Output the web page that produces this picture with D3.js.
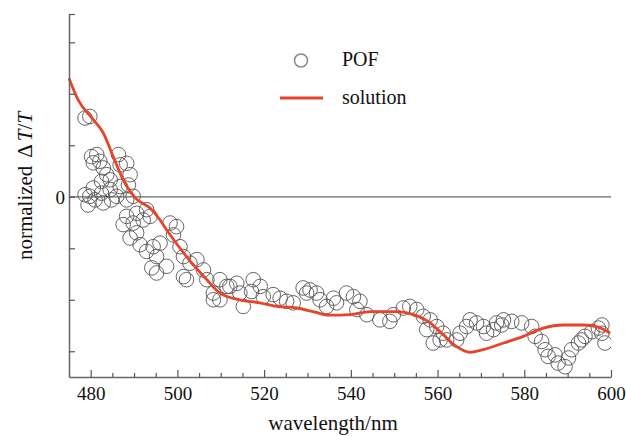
<!DOCTYPE html>
<html>
<head>
<meta charset="utf-8">
<script src="https://d3js.org/d3.v7.min.js"></script>
<style>
  body { margin: 0; background: #fff; }
  text { font-family: "Liberation Serif", "Times New Roman", serif; fill: #111; }
</style>
</head>
<body>
<div id="chart"></div>
<script>
// solution (red line)
var solNm  = [475.0, 477.1, 480.6, 482.9, 485.2, 487.5, 490.4, 493.7, 496.0, 497.5, 502.1, 506.8, 509.8, 514.4,
              519.0, 522.9, 527.5, 531.3, 535.2, 539.8, 544.4, 550.6, 554.4, 558.3, 561.3, 564.4, 567.5, 570.5,
              575.2, 579.8, 584.4, 589.0, 593.6, 596.7, 599.8];
var solVal = [2.30, 1.88, 1.50, 1.24, 0.78, 0.33, -0.03, -0.22, -0.45, -0.64, -1.16, -1.61, -1.87, -2.00,
              -2.06, -2.13, -2.16, -2.23, -2.30, -2.29, -2.23, -2.23, -2.29, -2.45, -2.68, -2.91, -3.02, -2.97,
              -2.84, -2.71, -2.55, -2.49, -2.49, -2.52, -2.65];

// POF (open circles)
var pofNm = [478.7, 479.8, 480.2, 481.4, 486.4, 480.6, 482.1, 482.9, 486.8, 488.3, 489.1, 483.7, 484.5, 482.5,
             480.6, 479.8, 481.0, 482.5, 484.5, 486.8, 486.0, 484.8, 482.9, 488.7, 488.3, 489.8, 488.3, 490.6,
             492.1, 493.7, 487.5, 478.7, 479.4,
             489.8, 492.9, 490.6, 489.1, 491.4, 492.9, 494.4, 495.2, 494.1, 495.2, 497.5, 496.0, 498.3, 499.8,
             499.1, 500.6, 501.4, 502.9, 501.4, 502.1, 504.5, 506.0, 506.8, 508.3, 509.8, 509.8, 511.4, 508.3,
             512.1, 513.7, 515.2, 514.4, 517.5, 519.1, 517.1, 519.8, 522.1, 523.7, 525.2, 526.7, 529.0, 530.6,
             532.1, 532.9, 534.4, 536.7, 536.0, 539.0, 540.6, 542.1, 541.4, 543.7, 546.7, 549.0, 549.8, 529.8,
             552.1, 553.6, 555.2, 556.7, 558.3, 557.5, 559.8, 559.0, 560.6, 562.1, 561.3, 564.4, 565.2, 566.7,
             567.5, 569.0, 570.6, 571.3, 572.9, 573.6, 575.2,
             574.8, 577.1, 579.4, 581.7, 582.5, 584.0, 584.8, 585.5, 587.1, 587.8, 589.4, 590.2, 590.9, 592.5,
             593.2, 594.0, 595.6, 597.1, 597.9, 598.6, 597.9];
var pofVal = [1.53, 1.56, 0.78, 0.82, 0.82, 0.66, 0.69, 0.56, 0.62, 0.65, 0.43, 0.43, 0.33, 0.30,
              0.17, 0.01, -0.06, 0.07, 0.14, 0.20, 0.01, -0.06, -0.12, 0.23, -0.06, 0.01, -0.38, -0.32,
              -0.45, -0.38, -0.54, 0.04, -0.16,
              -0.51, -0.25, -0.70, -0.80, -0.93, -1.06, -0.97, -1.16, -1.38, -1.48, -1.35, -0.90, -0.51, -0.58,
              -0.74, -0.97, -1.16, -1.29, -1.55, -1.61, -1.22, -1.42, -1.61, -1.87, -2.00, -1.61, -1.74, -2.00,
              -1.74, -1.68, -2.13, -1.87, -1.61, -1.74, -1.84, -1.94, -1.90, -1.97, -2.03, -2.06, -1.77, -1.81,
              -1.87, -2.00, -2.13, -2.06, -1.97, -1.87, -1.94, -2.03, -2.19, -2.29, -2.39, -2.42, -2.29, -1.87,
              -2.16, -2.13, -2.19, -2.32, -2.39, -2.58, -2.52, -2.84, -2.78, -2.78, -2.65, -2.78, -2.65, -2.52,
              -2.39, -2.45, -2.52, -2.65, -2.58, -2.45, -2.39,
              -2.49, -2.42, -2.45, -2.52, -2.71, -2.81, -2.97, -3.10, -3.07, -3.23, -3.30, -3.13, -2.97, -2.84,
              -2.78, -2.71, -2.62, -2.55, -2.65, -2.84, -2.49];

var xMajor = [480, 500, 520, 540, 560, 580, 600];
var yTicks = [-3, -2, -1, 0, 1, 2, 3, 3.55];

var svg = d3.select("#chart").append("svg")
            .attr("width", 626)
            .attr("height", 437);

var x = d3.scaleLinear().domain([475, 600]).range([69, 611]);
var y = d3.scaleLinear().domain([-3.5, 3.55]).range([377, 14]);

svg.append("clipPath").attr("id", "plot")
   .append("rect").attr("x", 69).attr("y", 0).attr("width", 542).attr("height", 377);

// zero line
svg.append("line")
   .attr("x1", x(475)).attr("x2", x(600))
   .attr("y1", y(0)).attr("y2", y(0))
   .attr("stroke", "#666").attr("stroke-width", 1.3);

// circles
var pts = pofNm.map(function(d, i){ return {nm: d, v: pofVal[i]}; });
svg.append("g")
   .attr("clip-path", "url(#plot)")
   .selectAll("circle")
   .data(pts)
   .enter()
   .append("circle")
   .attr("cx", function(d){ return x(d.nm); })
   .attr("cy", function(d){ return y(d.v); })
   .attr("r", 7.3)
   .attr("fill", "none")
   .attr("stroke", "#555")
   .attr("stroke-width", 0.9);

// solution line
var line = d3.line()
  .x(function(d, i){ return x(solNm[i]); })
  .y(function(d){ return y(d); })
  .curve(d3.curveMonotoneX);

svg.append("path")
   .attr("d", line(solVal))
   .attr("fill", "none")
   .attr("stroke", "#e6452b")
   .attr("stroke-width", 2.8);

// axes
var xAxis = d3.axisBottom(x)
  .tickValues(d3.range(475, 601, 5))
  .tickSize(0)
  .tickFormat("");
var gx = svg.append("g").attr("transform", "translate(0,377)").call(xAxis);
gx.select(".domain").attr("stroke", "#666").attr("stroke-width", 1.5);
gx.selectAll(".tick line")
  .attr("y2", function(d){ return d % 20 == 0 ? -7 : -4; })
  .attr("stroke", "#555").attr("stroke-width", 1.2);
gx.selectAll(".tick")
  .filter(function(d){ return xMajor.indexOf(d) >= 0; })
  .append("text")
  .attr("y", 23)
  .attr("text-anchor", "middle")
  .style("font-size", "19px")
  .text(function(d){ return d; });

var yAxis = d3.axisLeft(y)
  .tickValues(yTicks)
  .tickSize(0)
  .tickFormat("");
var gy = svg.append("g").attr("transform", "translate(69,0)").call(yAxis);
gy.select(".domain").attr("stroke", "#666").attr("stroke-width", 1.5);
gy.selectAll(".tick line").attr("x2", 6).attr("stroke", "#555").attr("stroke-width", 1.2);
gy.selectAll(".tick")
  .filter(function(d){ return d == 0; })
  .append("text")
  .attr("x", -4).attr("dy", "0.34em")
  .attr("text-anchor", "end")
  .style("font-size", "19px")
  .text("0");

// axis labels
svg.append("text")
   .attr("x", 333).attr("y", 430)
   .attr("text-anchor", "middle")
   .style("font-size", "21px")
   .text("wavelength/nm");

var yl = svg.append("text")
   .attr("transform", "translate(32,186) rotate(-90)")
   .attr("text-anchor", "middle")
   .style("font-size", "21px");
yl.append("tspan").text("normalized");
yl.append("tspan").attr("dx", 8).text("Δ");
yl.append("tspan").attr("dx", 3).style("font-style", "italic").text("T");
yl.append("tspan").text("/");
yl.append("tspan").style("font-style", "italic").text("T");

// legend
svg.append("circle")
   .attr("cx", 301).attr("cy", 60.5).attr("r", 6.5)
   .attr("fill", "none").attr("stroke", "#888").attr("stroke-width", 1.5);
svg.append("text").attr("x", 342).attr("y", 66).style("font-size", "20px").text("POF");
svg.append("line")
   .attr("x1", 280).attr("x2", 323).attr("y1", 98).attr("y2", 98)
   .attr("stroke", "#e6452b").attr("stroke-width", 3);
svg.append("text").attr("x", 342).attr("y", 104).style("font-size", "20px").text("solution");
</script>
</body>
</html>
